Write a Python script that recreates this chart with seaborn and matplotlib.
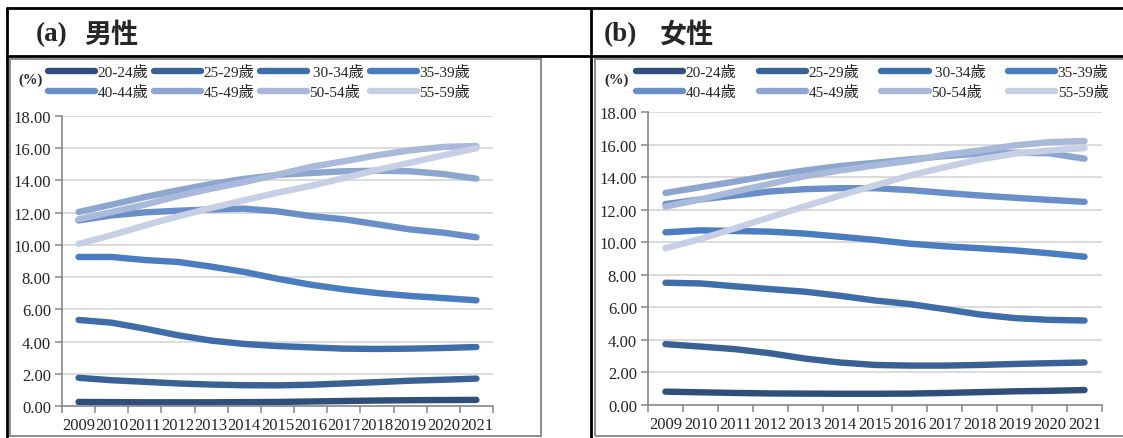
import numpy as np
import pandas as pd
import seaborn as sns
import matplotlib
matplotlib.use("Agg")
import matplotlib.pyplot as plt
from matplotlib.lines import Line2D
from matplotlib.patches import Rectangle

# ---- data -------------------------------------------------------------
years = ["2009", "2010", "2011", "2012", "2013", "2014", "2015",
         "2016", "2017", "2018", "2019", "2020", "2021"]
age_groups = ["20-24歲", "25-29歲", "30-34歲", "35-39歲",
              "40-44歲", "45-49歲", "50-54歲", "55-59歲"]
legend_labels = ["20-24歲", "25-29歲", " 30-34歲", "35-39歲",
                 "40-44歲", "45-49歲", "50-54歲", "55-59歲"]

# 男性 (%)
male_20_24 = [0.25, 0.24, 0.23, 0.23, 0.23, 0.24, 0.25, 0.28, 0.31, 0.34, 0.36, 0.37, 0.38]
male_25_29 = [1.75, 1.60, 1.50, 1.40, 1.33, 1.29, 1.28, 1.32, 1.40, 1.48, 1.57, 1.63, 1.70]
male_30_34 = [5.34, 5.17, 4.80, 4.39, 4.06, 3.85, 3.72, 3.64, 3.56, 3.54, 3.56, 3.60, 3.66]
male_35_39 = [9.25, 9.25, 9.06, 8.94, 8.65, 8.32, 7.90, 7.53, 7.24, 7.01, 6.83, 6.70, 6.56]
male_40_44 = [11.52, 11.83, 12.02, 12.12, 12.20, 12.25, 12.08, 11.79, 11.59, 11.28, 10.96, 10.76, 10.47]
male_45_49 = [12.04, 12.50, 12.97, 13.39, 13.78, 14.10, 14.34, 14.46, 14.57, 14.60, 14.57, 14.40, 14.11]
male_50_54 = [11.59, 12.04, 12.50, 13.03, 13.49, 13.90, 14.36, 14.84, 15.19, 15.56, 15.87, 16.08, 16.14]
male_55_59 = [10.06, 10.60, 11.21, 11.77, 12.29, 12.77, 13.24, 13.66, 14.15, 14.65, 15.10, 15.56, 16.00]

# 女性 (%)
female_20_24 = [0.82, 0.78, 0.74, 0.71, 0.70, 0.69, 0.69, 0.70, 0.74, 0.79, 0.84, 0.87, 0.92]
female_25_29 = [3.74, 3.59, 3.43, 3.18, 2.85, 2.61, 2.46, 2.42, 2.42, 2.46, 2.52, 2.57, 2.61]
female_30_34 = [7.51, 7.47, 7.29, 7.12, 6.96, 6.71, 6.42, 6.20, 5.89, 5.56, 5.34, 5.23, 5.19]
female_35_39 = [10.61, 10.73, 10.69, 10.65, 10.53, 10.34, 10.14, 9.91, 9.75, 9.63, 9.50, 9.32, 9.11]
female_40_44 = [12.34, 12.63, 12.87, 13.12, 13.26, 13.32, 13.32, 13.20, 13.03, 12.87, 12.73, 12.60, 12.48]
female_45_49 = [13.03, 13.38, 13.73, 14.10, 14.41, 14.68, 14.88, 15.09, 15.29, 15.44, 15.50, 15.46, 15.13]
female_50_54 = [12.19, 12.63, 13.12, 13.59, 14.06, 14.41, 14.72, 15.00, 15.37, 15.64, 15.95, 16.15, 16.22]
female_55_59 = [9.63, 10.20, 10.86, 11.54, 12.21, 12.87, 13.49, 14.10, 14.61, 15.09, 15.44, 15.64, 15.78]

male_series = [male_20_24, male_25_29, male_30_34, male_35_39,
               male_40_44, male_45_49, male_50_54, male_55_59]
female_series = [female_20_24, female_25_29, female_30_34, female_35_39,
                 female_40_44, female_45_49, female_50_54, female_55_59]

y_ticks = [0, 2, 4, 6, 8, 10, 12, 14, 16, 18]

# ---- style ------------------------------------------------------------
palette = ["#2F4F7A", "#3A6194", "#3E6DA8", "#4A7DC0",
           "#6A8FC8", "#8DA6D0", "#A9B9D9", "#C6CFE3"]
LW = 4.6

sns.set_theme(style="white")
plt.rcParams["font.family"] = ["Liberation Serif", "Noto Sans CJK TC"]
plt.rcParams["axes.unicode_minus"] = False

W, H = 1123, 439
fig = plt.figure(figsize=(W / 100, H / 100), dpi=100)


def fx(px):
    return px / W


def fy(py):
    return 1 - py / H


def long_frame(series):
    rows = []
    for age, vals in zip(age_groups, series):
        for yr, v in zip(years, vals):
            rows.append({"year": yr, "age": age, "value": v})
    return pd.DataFrame(rows)


def draw_panel(rect, series):
    ax = fig.add_axes(rect)
    df = long_frame(series)
    sns.lineplot(data=df, x="year", y="value", hue="age", hue_order=age_groups,
                 palette=palette, linewidth=LW, sort=False, legend=False, ax=ax,
                 solid_capstyle="round", solid_joinstyle="round")
    ax.set_xlim(-0.5, len(years) - 0.5)
    ax.set_ylim(0, 18)
    ax.set_yticks(y_ticks)
    ax.set_yticklabels([f"{t:.2f}" for t in y_ticks], fontsize=12)
    ax.set_xticks(np.arange(-0.5, len(years), 1.0))
    ax.set_xticklabels([])
    ax.set_xticks(np.arange(len(years)), minor=True)
    ax.set_xticklabels(years, minor=True, fontsize=12)
    ax.tick_params(axis="x", which="major", direction="out", length=5,
                   width=1.1, color="#868686", bottom=True)
    ax.tick_params(axis="x", which="minor", length=0, pad=8)
    ax.tick_params(axis="y", direction="out", length=5, width=1.1,
                   color="#868686", left=True, pad=3)
    ax.set_xlabel("")
    ax.set_ylabel("")
    ax.grid(False)
    for t in y_ticks[1:]:
        ax.axhline(t, color="#D9D9D9", lw=1.3, zorder=0)
    for s in ["top", "right"]:
        ax.spines[s].set_visible(False)
    for s in ["left", "bottom"]:
        ax.spines[s].set_color("#868686")
        ax.spines[s].set_linewidth(1.2)
    ax.set_facecolor("none")
    return ax


def draw_legend(x0, y0, colspacing):
    handles = [Line2D([], [], color=c, lw=LW, solid_capstyle="round")
               for c in palette]
    order = [0, 4, 1, 5, 2, 6, 3, 7]
    fig.legend([handles[i] for i in order], [legend_labels[i] for i in order],
               ncol=4, loc="upper left", bbox_to_anchor=(fx(x0), fy(y0)),
               frameon=False, fontsize=11, handlelength=3.1,
               handletextpad=0.15, columnspacing=colspacing,
               labelspacing=0.4, borderpad=0, borderaxespad=0)


# left panel (男性)
draw_panel([fx(62), fy(407), fx(493) - fx(62), fy(117) - fy(407)], male_series)
draw_legend(48, 66, 0.35)
fig.text(fx(18), fy(80), "(%)", fontsize=10.5, fontweight="bold",
         va="center", ha="left")

# right panel (女性)
draw_panel([fx(648), fy(406), fx(1102) - fx(648), fy(113) - fy(406)], female_series)
draw_legend(636, 66, 1.45)
fig.text(fx(604), fy(80), "(%)", fontsize=10.5, fontweight="bold",
         va="center", ha="left")

# panel titles
fig.text(fx(36), fy(35), "(a)", fontsize=19.5, fontweight="bold",
         family="Liberation Serif", va="center", ha="left")
fig.text(fx(84), fy(35), "男性", fontsize=19.5, fontweight="bold",
         family="Noto Sans CJK TC", va="center", ha="left")
fig.text(fx(604), fy(35), "(b)", fontsize=19.5, fontweight="bold",
         family="Liberation Serif", va="center", ha="left")
fig.text(fx(660), fy(35), "女性", fontsize=19.5, fontweight="bold",
         family="Noto Sans CJK TC", va="center", ha="left")

# chart frames (gray) and table rules (black)
for x0, x1 in [(10, 541), (595, 1130)]:
    fig.patches.append(Rectangle((fx(x0), fy(437)), fx(x1) - fx(x0), fy(60) - fy(437),
                                 transform=fig.transFigure, fill=False,
                                 edgecolor="#8C8C8C", lw=1.4))
for (xa, ya, xb, yb) in [(7, 9, 1123, 9), (7, 57, 1123, 57),
                         (7, 9, 7, 439), (591, 9, 591, 439)]:
    fig.add_artist(Line2D([fx(xa), fx(xb)], [fy(ya), fy(yb)],
                          transform=fig.transFigure, color="black", lw=2.0))

fig.savefig("out.png", dpi=100, facecolor="white")
